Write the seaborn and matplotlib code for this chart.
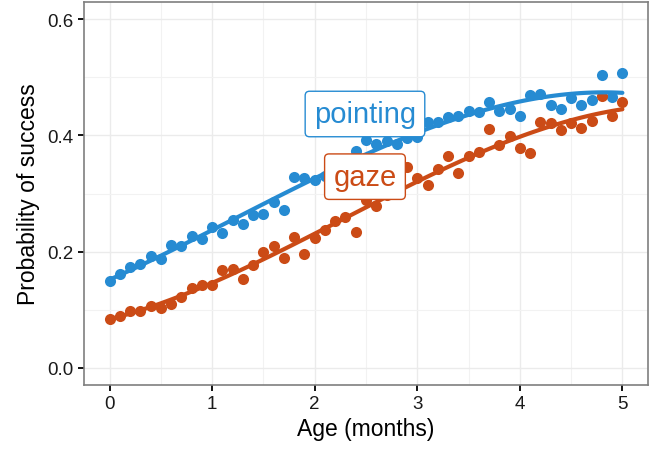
import numpy as np
import pandas as pd
import matplotlib
matplotlib.use("Agg")
import matplotlib.pyplot as plt
from matplotlib.ticker import MultipleLocator, FuncFormatter
import seaborn as sns

# Age in months at each observation
age = [0.0, 0.1, 0.2, 0.3, 0.4, 0.5, 0.6, 0.7, 0.8, 0.9,
       1.0, 1.1, 1.2, 1.3, 1.4, 1.5, 1.6, 1.7, 1.8, 1.9,
       2.0, 2.1, 2.2, 2.3, 2.4, 2.5, 2.6, 2.7, 2.8, 2.9,
       3.0, 3.1, 3.2, 3.3, 3.4, 3.5, 3.6, 3.7, 3.8, 3.9,
       4.0, 4.1, 4.2, 4.3, 4.4, 4.5, 4.6, 4.7, 4.8, 4.9, 5.0]

# Observed success rate for the pointing cue
pointing = [0.150, 0.161, 0.173, 0.179, 0.193, 0.187, 0.211, 0.209, 0.226, 0.222,
            0.243, 0.232, 0.254, 0.247, 0.263, 0.265, 0.286, 0.272, 0.328, 0.327,
            0.324, 0.330, 0.343, 0.356, 0.373, 0.393, 0.386, 0.390, 0.386, 0.396,
            0.398, 0.424, 0.424, 0.431, 0.434, 0.442, 0.440, 0.458, 0.443, 0.446,
            0.434, 0.470, 0.472, 0.452, 0.445, 0.464, 0.453, 0.461, 0.504, 0.466, 0.507]

# Observed success rate for the gaze cue
gaze = [0.083, 0.089, 0.098, 0.097, 0.106, 0.103, 0.110, 0.122, 0.138, 0.143,
        0.143, 0.168, 0.170, 0.153, 0.177, 0.199, 0.209, 0.189, 0.225, 0.195,
        0.224, 0.237, 0.252, 0.259, 0.233, 0.289, 0.279, 0.298, 0.305, 0.345,
        0.326, 0.315, 0.343, 0.365, 0.335, 0.364, 0.371, 0.411, 0.384, 0.399,
        0.379, 0.369, 0.423, 0.421, 0.410, 0.421, 0.413, 0.425, 0.468, 0.434, 0.458]

cues = ["pointing", "gaze"]
colors = {"pointing": "#268bd2", "gaze": "#cb4b16"}
label_pos = {"pointing": (2.49, 0.437), "gaze": (2.49, 0.329)}

df = pd.concat([
    pd.DataFrame({"age": age, "p": pointing, "cue": "pointing"}),
    pd.DataFrame({"age": age, "p": gaze, "cue": "gaze"}),
], ignore_index=True)

sns.set_theme(style="white")
plt.rcParams["font.family"] = ["Liberation Sans", "DejaVu Sans"]

fig = plt.figure(figsize=(6.55, 4.52), dpi=100)
ax = fig.add_axes([84 / 655, 1 - 386 / 452, (648 - 84) / 655, (386 - 3) / 452])

for cue in cues:
    sub = df[df["cue"] == cue]
    sns.regplot(data=sub, x="age", y="p", ax=ax, order=3, ci=None,
                color=colors[cue], truncate=True,
                scatter_kws={"s": 64, "alpha": 1, "linewidths": 0, "zorder": 3},
                line_kws={"lw": 3.0, "zorder": 4})

for cue in cues:
    x, y = label_pos[cue]
    ax.text(x, y, cue, color=colors[cue], fontsize=21, ha="center", va="center",
            zorder=6,
            bbox=dict(boxstyle="round,pad=0.3,rounding_size=0.15", fc="white",
                      ec=colors[cue], lw=1.0))

ax.set_xlim(-0.25, 5.25)
ax.set_ylim(-0.03, 0.63)
ax.xaxis.set_major_locator(MultipleLocator(1))
ax.xaxis.set_minor_locator(MultipleLocator(0.5))
ax.yaxis.set_major_locator(MultipleLocator(0.2))
ax.yaxis.set_minor_locator(MultipleLocator(0.1))
ax.yaxis.set_major_formatter(FuncFormatter(lambda v, _: f"{v:.1f}"))

ax.grid(True, which="major", color="#ebebeb", lw=1.0, zorder=0)
ax.grid(True, which="minor", color="#f2f2f2", lw=0.8, zorder=0)
ax.set_axisbelow(True)
for s in ax.spines.values():
    s.set_color("#7f7f7f")
    s.set_linewidth(1.2)

ax.tick_params(which="major", direction="out", length=4.5, width=1.3, color="black",
               labelsize=13.5, labelcolor="#1a1a1a", pad=3, bottom=True, left=True)
ax.tick_params(which="minor", length=0)

ax.set_xlabel("Age (months)", fontsize=16.5, color="black", labelpad=3)
ax.set_ylabel("Probability of success", fontsize=16.5, color="black", labelpad=5)

fig.savefig("out.png", dpi=100, facecolor="white")
